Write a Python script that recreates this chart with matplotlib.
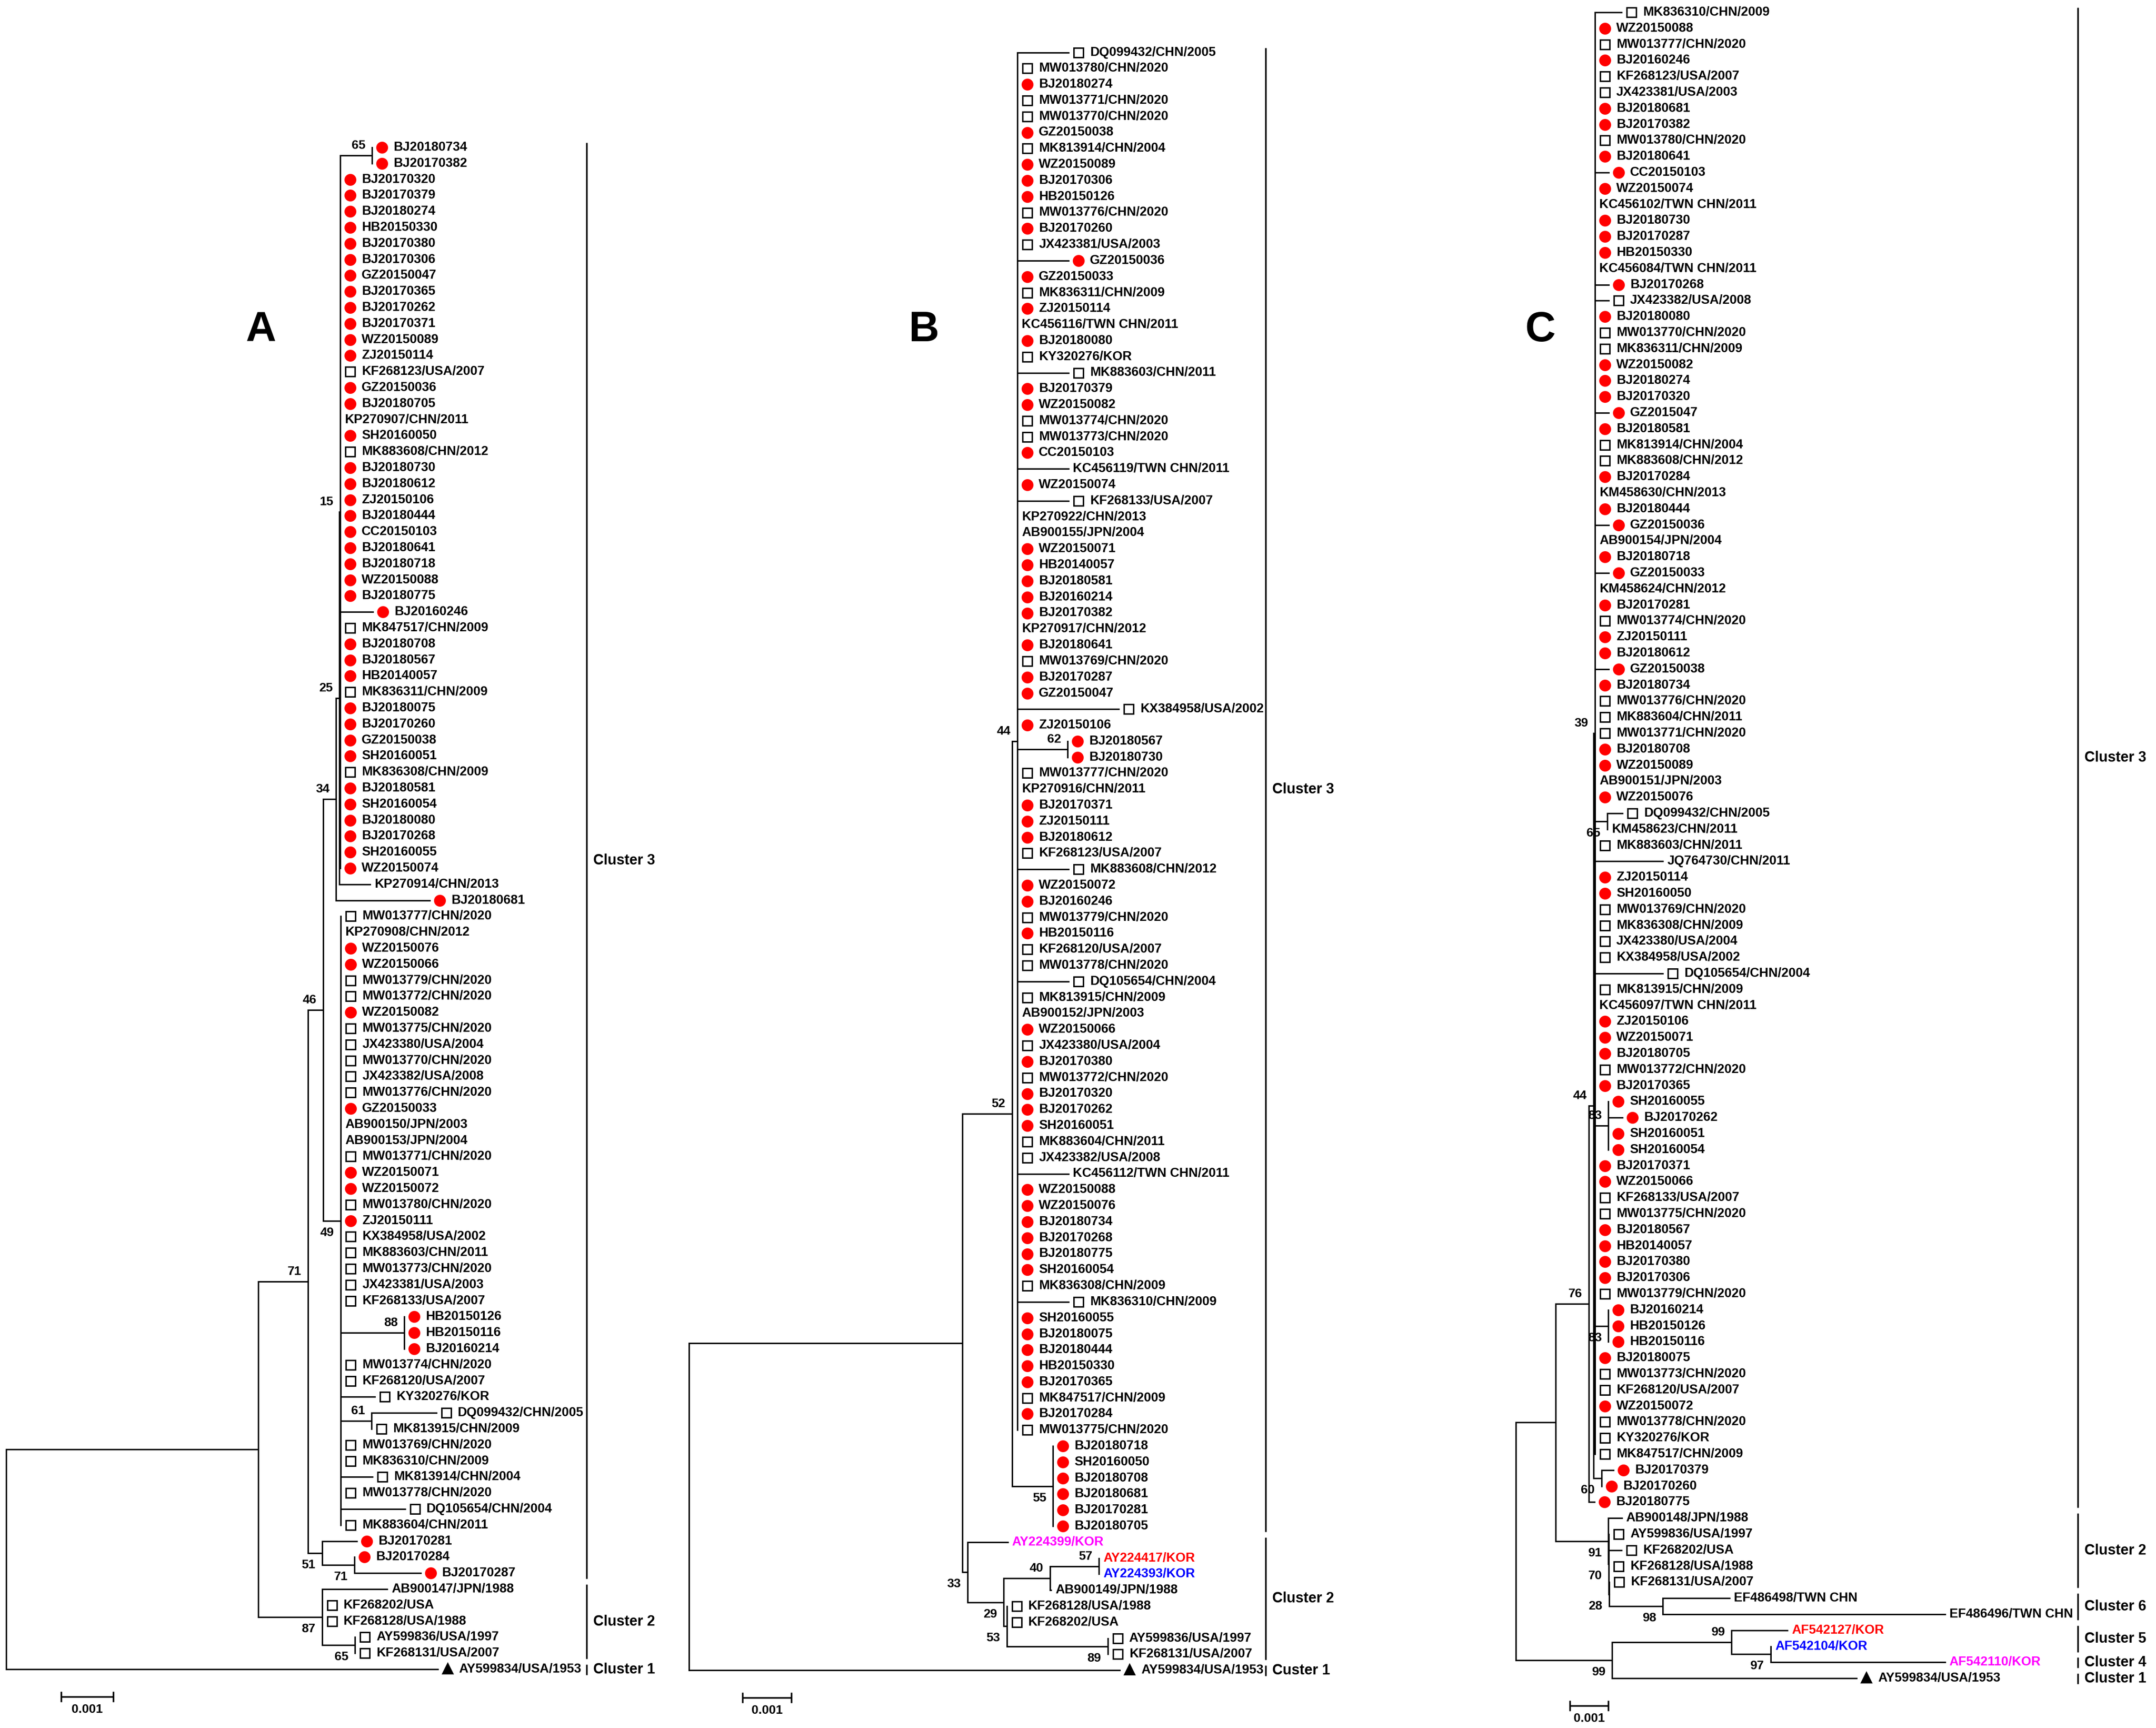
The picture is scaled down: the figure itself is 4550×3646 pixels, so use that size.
import re
import matplotlib
matplotlib.use("Agg")
import matplotlib.pyplot as plt
from matplotlib import transforms
from matplotlib.collections import LineCollection

# ----------------------------------------------------------------- data
# Trees in Newick: leaf names, branch lengths (substitutions/site), bootstrap
# values on internal nodes ("v" = value printed below the branch).
TREE_A = """
((((((((BJ20180734:0,BJ20170382:0)65:0.00061,
BJ20170320:0,BJ20170379:0,BJ20180274:0,HB20150330:0,BJ20170380:0,BJ20170306:0,
GZ20150047:0,BJ20170365:0,BJ20170262:0,BJ20170371:0,WZ20150089:0,ZJ20150114:0,
KF268123/USA/2007:0,GZ20150036:0,BJ20180705:0,KP270907/CHN/2011:0,SH20160050:0,
MK883608/CHN/2012:0,BJ20180730:0,BJ20180612:0,ZJ20150106:0,BJ20180444:0,
CC20150103:0,BJ20180641:0,BJ20180718:0,WZ20150088:0,BJ20180775:0,
BJ20160246:0.00063,
MK847517/CHN/2009:0,BJ20180708:0,BJ20180567:0,HB20140057:0,MK836311/CHN/2009:0,
BJ20180075:0,BJ20170260:0,GZ20150038:0,SH20160051:0,MK836308/CHN/2009:0,
BJ20180581:0,SH20160054:0,BJ20180080:0,BJ20170268:0,SH20160055:0,WZ20150074:0
)15:0.00002,KP270914/CHN/2013:0.00059)25:0.00006,BJ20180681:0.0018)34:0.00025,
(MW013777/CHN/2020:0,KP270908/CHN/2012:0,WZ20150076:0,WZ20150066:0,
MW013779/CHN/2020:0,MW013772/CHN/2020:0,WZ20150082:0,MW013775/CHN/2020:0,
JX423380/USA/2004:0,MW013770/CHN/2020:0,JX423382/USA/2008:0,MW013776/CHN/2020:0,
GZ20150033:0,AB900150/JPN/2003:0,AB900153/JPN/2004:0,MW013771/CHN/2020:0,
WZ20150071:0,WZ20150072:0,MW013780/CHN/2020:0,ZJ20150111:0,KX384958/USA/2002:0,
MK883603/CHN/2011:0,MW013773/CHN/2020:0,JX423381/USA/2003:0,KF268133/USA/2007:0,
(HB20150126:0,HB20150116:0,BJ20160214:0)88:0.00122,
MW013774/CHN/2020:0,KF268120/USA/2007:0,KY320276/KOR:0.00065,
(DQ099432/CHN/2005:0.00124,MK813915/CHN/2009:0)61:0.00059,
MW013769/CHN/2020:0,MK836310/CHN/2009:0,MK813914/CHN/2004:0.00061,
MW013778/CHN/2020:0,DQ105654/CHN/2004:0.00123,MK883604/CHN/2011:0
)49:0.00034)46:0.00029,
(BJ20170281:0.00067,(BJ20170284:0,BJ20170287:0.00127)71:0.00062)51:0.00027
)71:0.00095,
(AB900147/JPN/1988:0.00125,KF268202/USA:0,KF268128/USA/1988:0,
(AY599836/USA/1997:0,KF268131/USA/2007:0)65:0.00063)87:0.00122
):0.00484,AY599834/USA/1953:0.00828);
"""

TREE_B = """
((((DQ099432/CHN/2005:0.00105,MW013780/CHN/2020:0,BJ20180274:0,MW013771/CHN/2020:0,
MW013770/CHN/2020:0,GZ20150038:0,MK813914/CHN/2004:0,WZ20150089:0,BJ20170306:0,
HB20150126:0,MW013776/CHN/2020:0,BJ20170260:0,JX423381/USA/2003:0,
GZ20150036:0.00105,GZ20150033:0,MK836311/CHN/2009:0,ZJ20150114:0,
KC456116/TWN CHN/2011:0,BJ20180080:0,KY320276/KOR:0,MK883603/CHN/2011:0.00105,
BJ20170379:0,WZ20150082:0,MW013774/CHN/2020:0,MW013773/CHN/2020:0,CC20150103:0,
KC456119/TWN CHN/2011:0.00105,WZ20150074:0,KF268133/USA/2007:0.00105,
KP270922/CHN/2013:0,AB900155/JPN/2004:0,WZ20150071:0,HB20140057:0,BJ20180581:0,
BJ20160214:0,BJ20170382:0,KP270917/CHN/2012:0,BJ20180641:0,MW013769/CHN/2020:0,
BJ20170287:0,GZ20150047:0,KX384958/USA/2002:0.00208,ZJ20150106:0,
(BJ20180567:0,BJ20180730:0)62:0.00103,
MW013777/CHN/2020:0,KP270916/CHN/2011:0,BJ20170371:0,ZJ20150111:0,BJ20180612:0,
KF268123/USA/2007:0,MK883608/CHN/2012:0.00105,WZ20150072:0,BJ20160246:0,
MW013779/CHN/2020:0,HB20150116:0,KF268120/USA/2007:0,MW013778/CHN/2020:0,
DQ105654/CHN/2004:0.00105,MK813915/CHN/2009:0,AB900152/JPN/2003:0,WZ20150066:0,
JX423380/USA/2004:0,BJ20170380:0,MW013772/CHN/2020:0,BJ20170320:0,BJ20170262:0,
SH20160051:0,MK883604/CHN/2011:0,JX423382/USA/2008:0,
KC456112/TWN CHN/2011:0.00105,WZ20150088:0,WZ20150076:0,BJ20180734:0,
BJ20170268:0,BJ20180775:0,SH20160054:0,MK836308/CHN/2009:0,
MK836310/CHN/2009:0.00105,SH20160055:0,BJ20180075:0,BJ20180444:0,HB20150330:0,
BJ20170365:0,MK847517/CHN/2009:0,BJ20170284:0,MW013775/CHN/2020:0
)44:0.00011,
(BJ20180718:0,SH20160050:0,BJ20180708:0,BJ20180681:0,BJ20170281:0,BJ20180705:0
)55:0.00084)52:0.00102,
(AY224399/KOR:0.00082,
(((AY224417/KOR:0,AY224393/KOR:0)57:0.001,AB900149/JPN/1988:0.00002)40:0.00095,
(KF268128/USA/1988:0,KF268202/USA:0,
(AY599836/USA/1997:0,KF268131/USA/2007:0)89:0.00207)53:0.00006)29:0.00074
)33:0.00011):0.0056,AY599834/USA/1953:0.00883);
"""

TREE_C = """
(((((MK836310/CHN/2009:0.00069,WZ20150088:0,MW013777/CHN/2020:0,BJ20160246:0,
KF268123/USA/2007:0,JX423381/USA/2003:0,BJ20180681:0,BJ20170382:0,
MW013780/CHN/2020:0,BJ20180641:0,CC20150103:0.00036,WZ20150074:0,
KC456102/TWN CHN/2011:0,BJ20180730:0,BJ20170287:0,HB20150330:0,
KC456084/TWN CHN/2011:0,BJ20170268:0.00036,JX423382/USA/2008:0.00036,
BJ20180080:0,MW013770/CHN/2020:0,MK836311/CHN/2009:0,WZ20150082:0,BJ20180274:0,
BJ20170320:0,GZ2015047:0.00036,BJ20180581:0,MK813914/CHN/2004:0,
MK883608/CHN/2012:0,BJ20170284:0,KM458630/CHN/2013:0,BJ20180444:0,
GZ20150036:0.00036,AB900154/JPN/2004:0,BJ20180718:0,GZ20150033:0.00036,
KM458624/CHN/2012:0,BJ20170281:0,MW013774/CHN/2020:0,ZJ20150111:0,BJ20180612:0,
GZ20150038:0.00036,BJ20180734:0,MW013776/CHN/2020:0,MK883604/CHN/2011:0,
MW013771/CHN/2020:0,BJ20180708:0,WZ20150089:0,AB900151/JPN/2003:0,WZ20150076:0,
(DQ099432/CHN/2005:0.0004,KM458623/CHN/2011:0)65v:0.00032,
MK883603/CHN/2011:0,JQ764730/CHN/2011:0.00177,ZJ20150114:0,SH20160050:0,
MW013769/CHN/2020:0,MK836308/CHN/2009:0,JX423380/USA/2004:0,KX384958/USA/2002:0,
DQ105654/CHN/2004:0.00177,MK813915/CHN/2009:0,KC456097/TWN CHN/2011:0,
ZJ20150106:0,WZ20150071:0,BJ20180705:0,MW013772/CHN/2020:0,BJ20170365:0,
(SH20160055:0,BJ20170262:0.00037,SH20160051:0,SH20160054:0)83:0.00035,
BJ20170371:0,WZ20150066:0,KF268133/USA/2007:0,MW013775/CHN/2020:0,BJ20180567:0,
HB20140057:0,BJ20170380:0,BJ20170306:0,MW013779/CHN/2020:0,
(BJ20160214:0,HB20150126:0,HB20150116:0)83v:0.00035,
BJ20180075:0,MW013773/CHN/2020:0,KF268120/USA/2007:0,WZ20150072:0,
MW013778/CHN/2020:0,KY320276/KOR:0,MK847517/CHN/2009:0
)39:0.00004,(BJ20170379:0.00031,BJ20170260:0)60:0.00021)44:0.00012,
BJ20180775:0.00015)76:0.00086,
(AB900148/JPN/1988:0.00035,
(AY599836/USA/1997:0,KF268202/USA:0.00033,KF268128/USA/1988:0,
(KF268131/USA/2007:0,
(EF486498/TWN CHN:0.00174,EF486496/TWN CHN:0.00736)98:0.0014
)28:0.00001)70:0.00001)91:0.00137):0.00104,
((AF542127/KOR:0.00146,(AF542104/KOR:0,AF542110/KOR:0.00454)97:0.00102)99:0.00311,
AY599834/USA/1953:0.00637)99:0.00251);
"""

# cluster brackets: (label, first leaf, last leaf)
CLUSTERS_A = [("Cluster 3", "BJ20180734", "BJ20170287"),
              ("Cluster 2", "AB900147/JPN/1988", "KF268131/USA/2007"),
              ("Cluster 1", "AY599834/USA/1953", "AY599834/USA/1953")]
CLUSTERS_B = [("Cluster 3", "DQ099432/CHN/2005", "BJ20180705"),
              ("Cluster 2", "AY224399/KOR", "KF268131/USA/2007"),
              ("Custer 1", "AY599834/USA/1953", "AY599834/USA/1953")]
CLUSTERS_C = [("Cluster 3", "MK836310/CHN/2009", "BJ20180775"),
              ("Cluster 2", "AB900148/JPN/1988", "KF268131/USA/2007"),
              ("Cluster 6", "EF486498/TWN CHN", "EF486496/TWN CHN"),
              ("Cluster 5", "AF542127/KOR", "AF542104/KOR"),
              ("Cluster 4", "AF542110/KOR", "AF542110/KOR"),
              ("Cluster 1", "AY599834/USA/1953", "AY599834/USA/1953")]

SCALE_LEN = 0.001
SCALE_TEXT = "0.001"

# ----------------------------------------------------------------- style
W, H, DPI = 4550, 3646, 100
ROW = 33.8                       # px between leaves
FONT = ["Liberation Sans", "DejaVu Sans"]
RED = "#FF0000"
CIRCLE_PREFIX = ("BJ", "HB", "GZ", "SH", "ZJ", "CC", "WZ")
SQUARE_PREFIX = ("MW", "MK", "KF", "JX", "KX", "KY", "DQ")
SPECIAL_MARK = {"AY599834/USA/1953": "tri", "AY599836/USA/1997": "sq"}
TEXT_COLOR = {"AY224399/KOR": "#FF00FF", "AY224417/KOR": "#FF0000",
              "AY224393/KOR": "#0000FF", "AF542127/KOR": "#FF0000",
              "AF542104/KOR": "#0000FF", "AF542110/KOR": "#FF00FF"}

PANELS = [
    dict(letter="A", tree=TREE_A, clusters=CLUSTERS_A, root_px=13, ppu=110 / 0.001,
         y0=311, bar_px=1238, scale_px=(129, 3580), letter_px=(551, 697)),
    dict(letter="B", tree=TREE_B, clusters=CLUSTERS_B, root_px=1454, ppu=103 / 0.001,
         y0=110.5, bar_px=2671, scale_px=(1567, 3582), letter_px=(1950, 697)),
    dict(letter="C", tree=TREE_C, clusters=CLUSTERS_C, root_px=3199, ppu=81 / 0.001,
         y0=26, bar_px=4385, scale_px=(3313, 3599), letter_px=(3250, 697)),
]


def parse_newick(s):
    s = re.sub(r"\s*([(),:;])\s*", r"\1", s.strip())
    s = s.replace("\n", "")
    pos = 0

    def node():
        nonlocal pos
        n = {"children": [], "name": "", "len": 0.0}
        if s[pos] == "(":
            pos += 1
            while True:
                n["children"].append(node())
                if s[pos] == ",":
                    pos += 1
                    continue
                if s[pos] == ")":
                    pos += 1
                    break
        st = pos
        while pos < len(s) and s[pos] not in ":,();":
            pos += 1
        n["name"] = s[st:pos].strip()
        if pos < len(s) and s[pos] == ":":
            pos += 1
            st = pos
            while s[pos] not in ",();":
                pos += 1
            n["len"] = float(s[st:pos])
        return n

    return node()


def layout(root):
    leaves = []

    def walk(n, px, parent):
        n["x"] = px + n["len"]
        n["parent"] = parent
        if n["children"]:
            for c in n["children"]:
                walk(c, n["x"], n)
            n["y"] = (n["children"][0]["y"] + n["children"][-1]["y"]) / 2
        else:
            n["y"] = float(len(leaves))
            leaves.append(n)

    root["len"] = 0.0
    walk(root, 0.0, None)
    return leaves


def all_nodes(n):
    yield n
    for c in n["children"]:
        yield from all_nodes(c)


def mark_of(name):
    if name in SPECIAL_MARK:
        return SPECIAL_MARK[name]
    if name.startswith(CIRCLE_PREFIX):
        return "circ"
    if name.startswith(SQUARE_PREFIX):
        return "sq"
    return None


fig = plt.figure(figsize=(W / DPI, H / DPI), dpi=DPI)
fig.patch.set_facecolor("white")

for P in PANELS:
    ax = fig.add_axes([0, 0, 1, 1])
    ax.set_facecolor("none")
    ax.axis("off")
    ppu, rx, y0 = P["ppu"], P["root_px"], P["y0"]
    ax.set_xlim(-rx / ppu, (W - rx) / ppu)
    ax.set_ylim((H - y0) / ROW, -y0 / ROW)

    def dx(px):
        return (px - rx) / ppu

    def dy(py):
        return (py - y0) / ROW

    def off(x, y):
        return transforms.offset_copy(ax.transData, fig=fig, x=x, y=y, units="dots")

    root = parse_newick(P["tree"])
    leaves = layout(root)
    leaf_y = {lf["name"]: lf["y"] for lf in leaves}

    segs = []
    for n in all_nodes(root):
        if n["children"]:
            segs.append([(n["x"], n["children"][0]["y"]), (n["x"], n["children"][-1]["y"])])
        if n["parent"] is not None and n["len"] > 0:
            segs.append([(n["parent"]["x"], n["y"]), (n["x"], n["y"])])
    ax.add_collection(LineCollection(segs, colors="black", linewidths=2.2,
                                     capstyle="projecting", joinstyle="miter"))

    # leaves
    for lf in leaves:
        m = mark_of(lf["name"])
        if m == "circ":
            ax.plot([lf["x"]], [lf["y"]], "o", ms=18, mfc=RED, mec=RED, mew=0,
                    transform=off(21, 0), clip_on=False)
        elif m == "sq":
            ax.plot([lf["x"]], [lf["y"]], "s", ms=14.5, mfc="white", mec="black",
                    mew=2.2, transform=off(21, 0), clip_on=False)
        elif m == "tri":
            ax.plot([lf["x"]], [lf["y"]], "^", ms=19, mfc="black", mec="black",
                    mew=0, transform=off(21, 2), clip_on=False)
        tx = 45 if m else 9
        ax.text(lf["x"], lf["y"], lf["name"], transform=off(tx, 0),
                ha="left", va="center", fontsize=19.5, fontweight="bold",
                family=FONT, color=TEXT_COLOR.get(lf["name"], "black"))

    # bootstrap values
    for n in all_nodes(root):
        if not n["children"] or not n["name"] or n["parent"] is None:
            continue
        val = n["name"].rstrip("v")
        below = n["name"].endswith("v") or n["parent"]["children"][-1] is n
        ax.text(n["x"], n["y"], val, transform=off(-14, -25 if below else 21),
                ha="right", va="center", fontsize=19, fontweight="bold", family=FONT)

    # cluster brackets
    bx = dx(P["bar_px"])
    for lab, a, b in P["clusters"]:
        ya, yb = leaf_y[a] - 10 / ROW, leaf_y[b] + 12 / ROW
        ax.plot([bx, bx], [ya, yb], color="black", lw=2.5, solid_capstyle="butt")
        ax.text(bx, (ya + yb) / 2, lab, transform=off(14, 0), ha="left", va="center",
                fontsize=22, fontweight="bold", family=FONT)

    # scale bar
    sx, sy = dx(P["scale_px"][0]), dy(P["scale_px"][1])
    t = 11 / ROW
    ax.plot([sx, sx + SCALE_LEN], [sy, sy], color="black", lw=2.5, solid_capstyle="butt")
    ax.plot([sx, sx], [sy - t, sy + t], color="black", lw=2.5, solid_capstyle="butt")
    ax.plot([sx + SCALE_LEN] * 2, [sy - t, sy + t], color="black", lw=2.5,
            solid_capstyle="butt")
    ax.text(sx + SCALE_LEN / 2, sy, SCALE_TEXT, transform=off(0, -27), ha="center",
            va="center", fontsize=19, fontweight="bold", family=FONT)

    lx, ly = P["letter_px"]
    fig.text(lx / W, 1 - ly / H, P["letter"], ha="center", va="center",
             fontsize=64, fontweight="bold", family=FONT)

fig.savefig("out.png", dpi=DPI, facecolor="white")
